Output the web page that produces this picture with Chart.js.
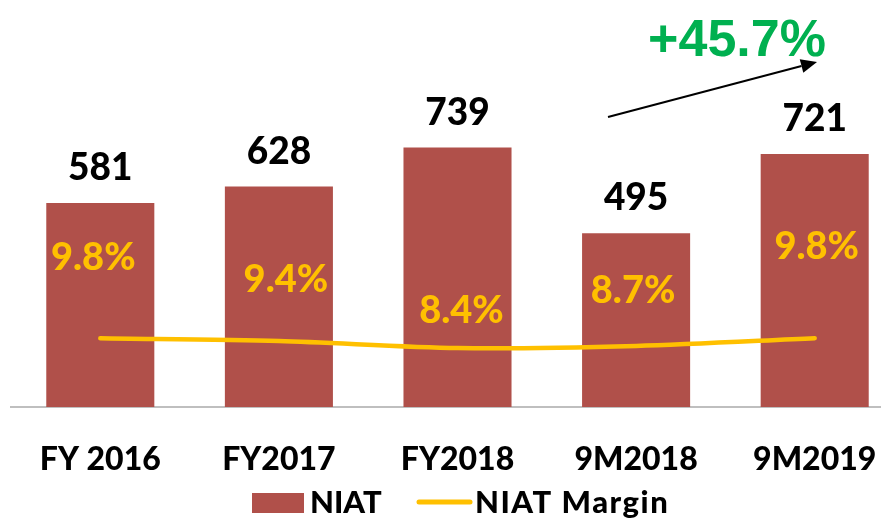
<!DOCTYPE html>
<html>
<head>
<meta charset="utf-8">
<script src="https://cdn.jsdelivr.net/npm/chart.js@4.4.1/dist/chart.umd.min.js"></script>
<style>
  html, body { margin: 0; padding: 0; background: #ffffff; overflow: hidden; width: 881px; height: 519px; }
  #wrap { position: absolute; left: 0; top: 0; width: 910px; height: 519px; }
</style>
</head>
<body>
<div id="wrap"><canvas id="c"></canvas></div>
<script>
// ---- data ----
const categories = ['FY 2016', 'FY2017', 'FY2018', '9M2018', '9M2019'];
const niat = [581, 628, 739, 495, 721];
const niatMargin = [9.8, 9.4, 8.4, 8.7, 9.8];
const growthLabel = '+45.7%';
const seriesNames = ['NIAT', 'NIAT Margin'];

// ---- style constants ----
const BAR_COLOR = '#B0504A';
const LINE_COLOR = '#FFC000';
const GREEN = '#00B050';
const FONT = 'Lato, "Open Sans", sans-serif';
const WEIGHT = '900';
// manual label offsets (px) for margin labels relative to line points
const marginLabelDX = [-7, 7, 4, -3, 2];
const marginLabelDY = [-80, -61, -37, -55, -91];

const annotations = {
  id: 'annotations',
  afterDatasetsDraw(chart) {
    const ctx = chart.ctx;
    const barMeta = chart.getDatasetMeta(0);
    const lineMeta = chart.getDatasetMeta(1);
    ctx.save();
    ctx.textAlign = 'center';
    ctx.textBaseline = 'middle';
    // value labels above bars
    ctx.font = WEIGHT + ' 37px ' + FONT;
    ctx.fillStyle = '#000000';
    barMeta.data.forEach((bar, i) => {
      ctx.fillText(String(niat[i]), bar.x, bar.y - 35);
    });
    // margin labels
    ctx.fillStyle = LINE_COLOR;
    ctx.font = WEIGHT + ' 38px ' + FONT;
    lineMeta.data.forEach((pt, i) => {
      ctx.fillText(niatMargin[i].toFixed(1) + '%', pt.x + marginLabelDX[i], pt.y + marginLabelDY[i]);
    });
    // growth label
    ctx.font = 'bold 52px "Liberation Sans", Arial, sans-serif';
    ctx.fillStyle = GREEN;
    ctx.fillText(growthLabel, 737, 42);
    // arrow
    const x0 = 608, y0 = 117, x1 = 817, y1 = 62;
    const ang = Math.atan2(y1 - y0, x1 - x0);
    const hl = 16, hw = 7;
    ctx.strokeStyle = '#000000';
    ctx.lineWidth = 2;
    ctx.beginPath();
    ctx.moveTo(x0, y0);
    ctx.lineTo(x1 - hl * Math.cos(ang), y1 - hl * Math.sin(ang));
    ctx.stroke();
    ctx.fillStyle = '#000000';
    ctx.beginPath();
    ctx.moveTo(x1, y1);
    ctx.lineTo(x1 - hl * Math.cos(ang) + hw * Math.sin(ang), y1 - hl * Math.sin(ang) - hw * Math.cos(ang));
    ctx.lineTo(x1 - hl * Math.cos(ang) - hw * Math.sin(ang), y1 - hl * Math.sin(ang) + hw * Math.cos(ang));
    ctx.closePath();
    ctx.fill();
    ctx.restore();
  },
  afterDraw(chart) {
    // legend
    const ctx = chart.ctx;
    ctx.save();
    ctx.font = WEIGHT + ' 31px ' + FONT;
    ctx.textBaseline = 'alphabetic';
    ctx.textAlign = 'left';
    const base = 513;
    ctx.fillStyle = BAR_COLOR;
    ctx.fillRect(252, 493, 52, 20);
    ctx.fillStyle = '#000000';
    ctx.fillText(seriesNames[0], 310, base);
    ctx.strokeStyle = LINE_COLOR;
    ctx.lineWidth = 5;
    ctx.lineCap = 'round';
    ctx.beginPath();
    ctx.moveTo(419, 502);
    ctx.lineTo(470, 502);
    ctx.stroke();
    ctx.letterSpacing = '1.5px';
    ctx.fillText(seriesNames[1], 475, base);
    ctx.restore();
  }
};

new Chart(document.getElementById('c'), {
  data: {
    labels: categories,
    datasets: [
      {
        type: 'bar',
        label: seriesNames[0],
        data: niat,
        backgroundColor: BAR_COLOR,
        borderWidth: 0,
        yAxisID: 'y',
        categoryPercentage: 1.0,
        barPercentage: 0.605,
        order: 2
      },
      {
        type: 'line',
        label: seriesNames[1],
        data: niatMargin,
        borderColor: LINE_COLOR,
        backgroundColor: LINE_COLOR,
        borderWidth: 4.5,
        borderCapStyle: 'round',
        pointRadius: 0,
        tension: 0.3,
        yAxisID: 'y1',
        order: 1
      }
    ]
  },
  options: {
    responsive: true,
    maintainAspectRatio: false,
    animation: false,
    layout: { padding: { left: 11, right: 6, top: 56, bottom: 0 } },
    plugins: { legend: { display: false }, tooltip: { enabled: false } },
    scales: {
      x: {
        grid: { display: false, drawTicks: false },
        border: { display: true, color: '#BFBFBF', width: 2 },
        ticks: { color: '#000000', font: { family: FONT, size: 32, weight: WEIGHT }, padding: 33, maxRotation: 0 },
        afterFit(scale) { scale.height = 112; }
      },
      y: { display: false, min: 0, max: 1000 },
      y1: { display: false, min: 0, max: 50, position: 'right' }
    }
  },
  plugins: [annotations]
});
</script>
</body>
</html>
